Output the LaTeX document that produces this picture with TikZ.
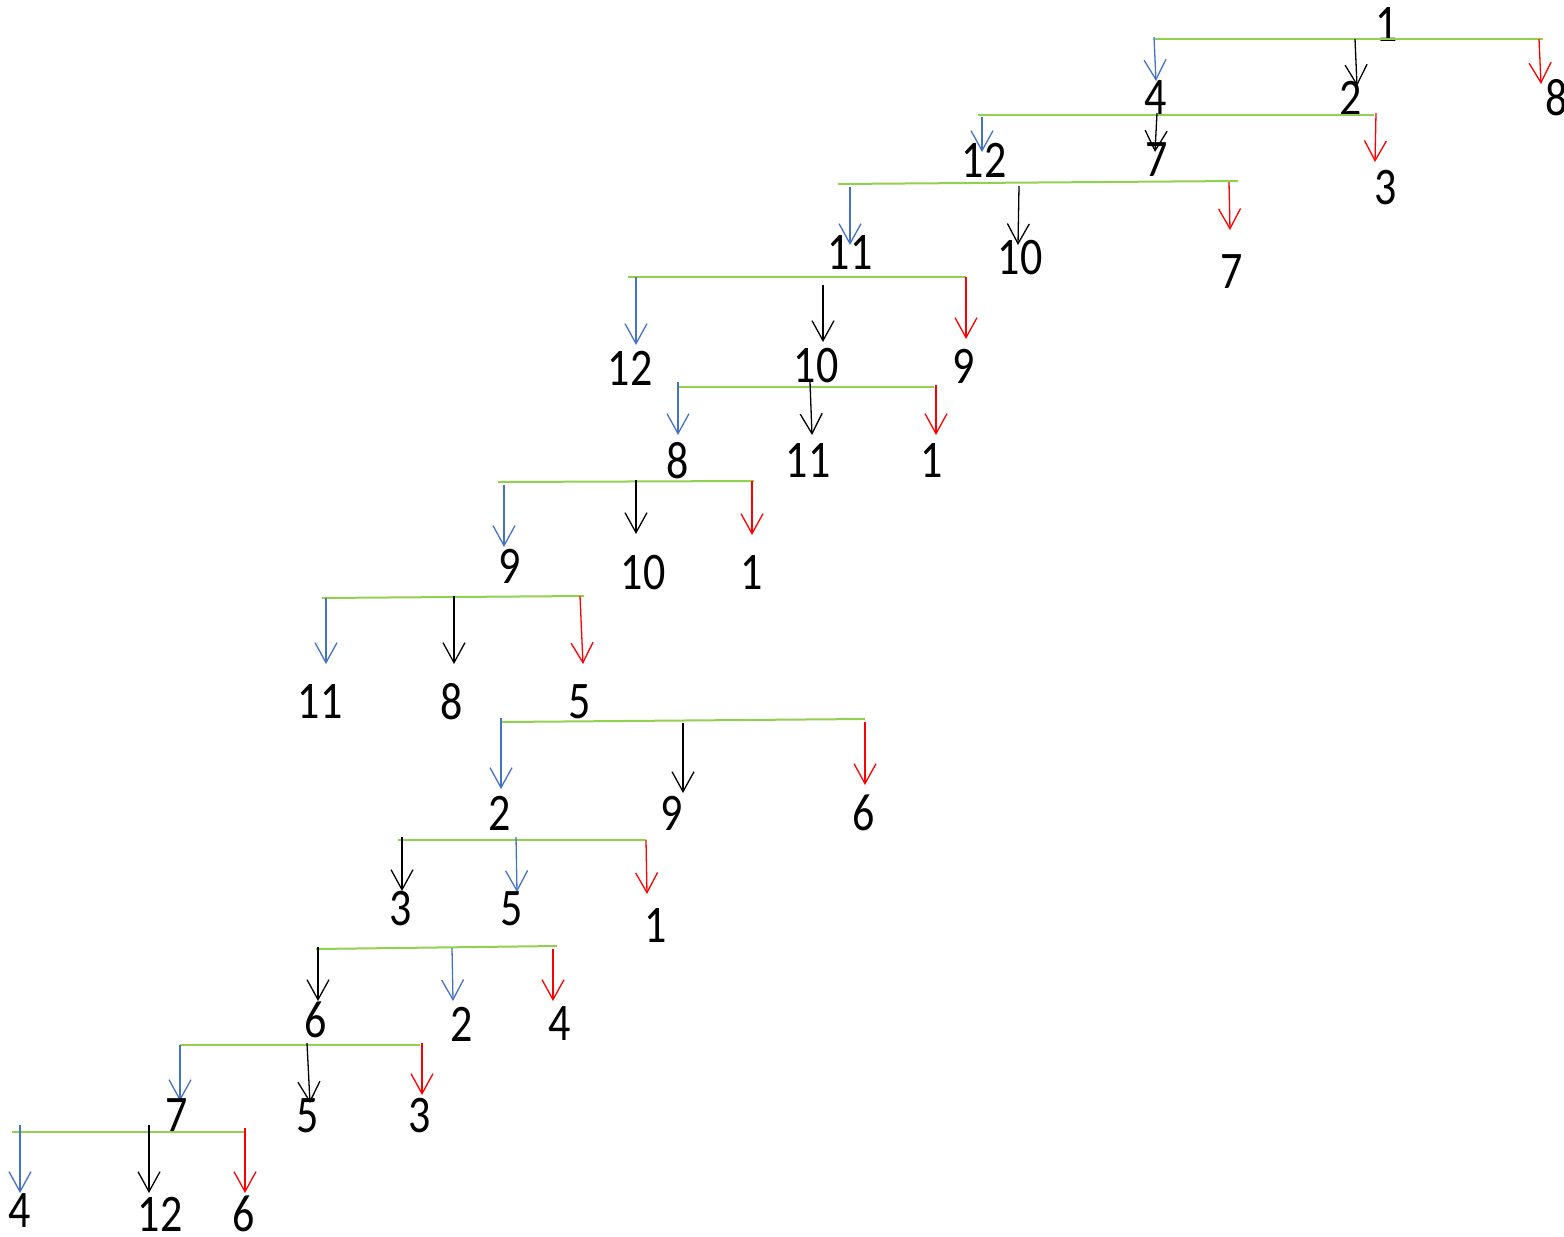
\documentclass[tikz,border=0pt]{standalone}
\usepackage{fontspec}
\setmainfont{Carlito}
\usetikzlibrary{arrows.meta}
\definecolor{barg}{RGB}{146,208,80}
\definecolor{arb}{RGB}{68,114,196}

\begin{document}
\begin{tikzpicture}[x=1pt,y=-1pt,
  num/.style={font=\fontsize{44}{44}\selectfont,inner sep=0pt,yscale=1.2},
  bar/.style={draw=barg,line width=2pt},
  ab/.style={draw=arb,line width=1.3pt,-{Straight Barb[length=20pt,width=22pt]}},
  ak/.style={ab,draw=black},
  ar/.style={ab,draw=red}]
  \useasboundingbox (0,0) rectangle (1564,1237);

  \node[num] (n0) at (1387,25) {1};
  \coordinate (b1l) at (1155,39); \coordinate (b1r) at (1543,39);
  \coordinate (t1a) at (1154,37); \coordinate (h1a) at (1156,81);
  \coordinate (t1b) at (1355,39); \coordinate (h1b) at (1357,86);
  \coordinate (t1c) at (1539,39); \coordinate (h1c) at (1541,84);
  \draw[bar] (b1l) -- (b1r);
  \draw[ab] (t1a) -- (h1a); \draw[ak] (t1b) -- (h1b); \draw[ar] (t1c) -- (h1c);
  \node[num] (n1a) at (1156,98) {4};
  \node[num] (n1b) at (1351,98) {2};
  \node[num] (n1c) at (1557,98) {8};

  \coordinate (b2l) at (978,115); \coordinate (b2r) at (1374,115);
  \coordinate (t2a) at (982,117); \coordinate (h2a) at (982,152);
  \coordinate (t2b) at (1157,113); \coordinate (h2b) at (1155,152);
  \coordinate (t2c) at (1376,113); \coordinate (h2c) at (1375,162);
  \draw[bar] (b2l) -- (b2r);
  \draw[ab] (t2a) -- (h2a); \draw[ak] (t2b) -- (h2b); \draw[ar] (t2c) -- (h2c);
  \node[num] (n2a) at (984,160) {12};
  \node[num] (n2b) at (1157,160) {7};
  \node[num] (n2c) at (1386,188) {3};

  \coordinate (b3l) at (838,184); \coordinate (b3r) at (1238,181);
  \coordinate (t3a) at (850,187); \coordinate (h3a) at (850,245);
  \coordinate (t3b) at (1019,186); \coordinate (h3b) at (1018,245);
  \coordinate (t3c) at (1229,182); \coordinate (h3c) at (1230,230);
  \draw[bar] (b3l) -- (b3r);
  \draw[ab] (t3a) -- (h3a); \draw[ak] (t3b) -- (h3b); \draw[ar] (t3c) -- (h3c);
  \node[num] (n3a) at (850,253) {11};
  \node[num] (n3b) at (1020,258) {10};
  \node[num] (n3c) at (1232,272) {7};

  \coordinate (b4l) at (628,277); \coordinate (b4r) at (966,277);
  \coordinate (t4a) at (636,277); \coordinate (h4a) at (636,345);
  \coordinate (t4b) at (823,285); \coordinate (h4b) at (823,342);
  \coordinate (t4c) at (966,277); \coordinate (h4c) at (966,339);
  \draw[bar] (b4l) -- (b4r);
  \draw[ab] (t4a) -- (h4a); \draw[ak] (t4b) -- (h4b); \draw[ar] (t4c) -- (h4c);
  \node[num] (n4a) at (630,368) {12};
  \node[num] (n4b) at (816,366) {10};
  \node[num] (n4c) at (964,366) {9};

  \coordinate (b5l) at (678,387); \coordinate (b5r) at (934,387);
  \coordinate (t5a) at (678,382); \coordinate (h5a) at (678,435);
  \coordinate (t5b) at (810,382); \coordinate (h5b) at (812,435);
  \coordinate (t5c) at (936,385); \coordinate (h5c) at (936,435);
  \draw[bar] (b5l) -- (b5r);
  \draw[ab] (t5a) -- (h5a); \draw[ak] (t5b) -- (h5b); \draw[ar] (t5c) -- (h5c);
  \node[num] (n5a) at (678,461) {8};
  \node[num] (n5b) at (808,461) {11};
  \node[num] (n5c) at (932,461) {1};

  \coordinate (b6l) at (498,482); \coordinate (b6r) at (754,481);
  \coordinate (t6a) at (504,485); \coordinate (h6a) at (504,547);
  \coordinate (t6b) at (636,480); \coordinate (h6b) at (636,534);
  \coordinate (t6c) at (752,481); \coordinate (h6c) at (752,535);
  \draw[bar] (b6l) -- (b6r);
  \draw[ab] (t6a) -- (h6a); \draw[ak] (t6b) -- (h6b); \draw[ar] (t6c) -- (h6c);
  \node[num] (n6a) at (510,566) {9};
  \node[num] (n6b) at (643,573) {10};
  \node[num] (n6c) at (752,573) {1};

  \coordinate (b7l) at (322,598); \coordinate (b7r) at (584,596);
  \coordinate (t7a) at (326,598); \coordinate (h7a) at (326,664);
  \coordinate (t7b) at (454,596); \coordinate (h7b) at (454,664);
  \coordinate (t7c) at (580,596); \coordinate (h7c) at (583,664);
  \draw[bar] (b7l) -- (b7r);
  \draw[ab] (t7a) -- (h7a); \draw[ak] (t7b) -- (h7b); \draw[ar] (t7c) -- (h7c);
  \node[num] (n7a) at (320,702) {11};
  \node[num] (n7b) at (452,702) {8};
  \node[num] (n7c) at (580,702) {5};

  \coordinate (b8l) at (502,722); \coordinate (b8r) at (865,719);
  \coordinate (t8a) at (501,718); \coordinate (h8a) at (501,789);
  \coordinate (t8b) at (683,723); \coordinate (h8b) at (683,793);
  \coordinate (t8c) at (865,722); \coordinate (h8c) at (865,785);
  \draw[bar] (b8l) -- (b8r);
  \draw[ab] (t8a) -- (h8a); \draw[ak] (t8b) -- (h8b); \draw[ar] (t8c) -- (h8c);
  \node[num] (n8a) at (500,813) {2};
  \node[num] (n8b) at (672,813) {9};
  \node[num] (n8c) at (864,813) {6};

  \coordinate (b9l) at (398,840); \coordinate (b9r) at (646,840);
  \coordinate (t9a) at (402,837); \coordinate (h9a) at (402,891);
  \coordinate (t9b) at (516,837); \coordinate (h9b) at (517,892);
  \coordinate (t9c) at (646,840); \coordinate (h9c) at (647,894);
  \draw[bar] (b9l) -- (b9r);
  \draw[ak] (t9a) -- (h9a); \draw[ab] (t9b) -- (h9b); \draw[ar] (t9c) -- (h9c);
  \node[num] (n9a) at (401,909) {3};
  \node[num] (n9b) at (512,909) {5};
  \node[num] (n9c) at (656,925) {1};

  \coordinate (b10l) at (316,949); \coordinate (b10r) at (557,946);
  \coordinate (t10a) at (318,947); \coordinate (h10a) at (318,1001);
  \coordinate (t10b) at (452,948); \coordinate (h10b) at (453,1001);
  \coordinate (t10c) at (553,949); \coordinate (h10c) at (553,1001);
  \draw[bar] (b10l) -- (b10r);
  \draw[ak] (t10a) -- (h10a); \draw[ab] (t10b) -- (h10b); \draw[ar] (t10c) -- (h10c);
  \node[num] (n10a) at (316,1020) {6};
  \node[num] (n10b) at (462,1024) {2};
  \node[num] (n10c) at (560,1024) {4};

  \coordinate (b11l) at (180,1045); \coordinate (b11r) at (420,1045);
  \coordinate (t11a) at (180,1045); \coordinate (h11a) at (180,1101);
  \coordinate (t11b) at (307,1043); \coordinate (h11b) at (310,1103);
  \coordinate (t11c) at (422,1043); \coordinate (h11c) at (422,1095);
  \draw[bar] (b11l) -- (b11r);
  \draw[ab] (t11a) -- (h11a); \draw[ak] (t11b) -- (h11b); \draw[ar] (t11c) -- (h11c);
  \node[num] (n11a) at (177,1116) {7};
  \node[num] (n11b) at (308,1116) {5};
  \node[num] (n11c) at (420,1116) {3};

  \coordinate (b12l) at (12,1132); \coordinate (b12r) at (245,1132);
  \coordinate (t12a) at (20,1125); \coordinate (h12a) at (20,1193);
  \coordinate (t12b) at (149,1125); \coordinate (h12b) at (149,1193);
  \coordinate (t12c) at (245,1128); \coordinate (h12c) at (245,1193);
  \draw[bar] (b12l) -- (b12r);
  \draw[ab] (t12a) -- (h12a); \draw[ak] (t12b) -- (h12b); \draw[ar] (t12c) -- (h12c);
  \node[num] (n12a) at (20,1211) {4};
  \node[num] (n12b) at (160,1214) {12};
  \node[num] (n12c) at (244,1214) {6};
\end{tikzpicture}
\end{document}
